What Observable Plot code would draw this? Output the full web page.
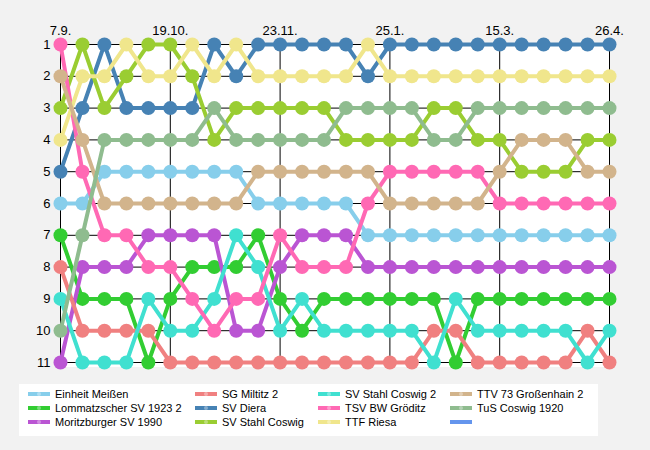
<!DOCTYPE html>
<html>
<head>
<meta charset="utf-8">
<script src="https://cdn.jsdelivr.net/npm/d3@7"></script>
<script src="https://cdn.jsdelivr.net/npm/@observablehq/plot@0.6"></script>
<style>
  html, body { margin: 0; padding: 0; background: #f2f2f2; }
  #wrap { position: relative; width: 650px; height: 450px; font-family: "Liberation Sans", Arial, sans-serif; }
  #legend { position: absolute; left: 19px; top: 384px; width: 579px; height: 52px; background: #ffffff; }
  .item { position: absolute; height: 14px; display: flex; align-items: center; font-size: 11px; color: #000; white-space: nowrap; }
  .item svg { margin-right: 5px; }
</style>
</head>
<body>
<div id="wrap"><div id="chart"></div><div id="legend"></div></div>
<script>
// Rounds (matchdays) and x-axis labels
const rounds = d3.range(1, 27);
const tickRounds = [1, 6, 11, 16, 21, 26];
const tickLabels = ["7.9.", "19.10.", "23.11.", "25.1.", "15.3.", "26.4."];
const rankTicks = d3.range(1, 12);

// Team names (legend order) and colours
const teams = ["Einheit Meißen", "Lommatzscher SV 1923 2", "Moritzburger SV 1990", "SG Miltitz 2", "SV Diera", "SV Stahl Coswig", "SV Stahl Coswig 2", "TSV BW Gröditz", "TTF Riesa", "TTV 73 Großenhain 2", "TuS Coswig 1920"];
const colors = ["#87CEEB", "#32CD32", "#BA55D3", "#F08080", "#4682B4", "#9ACD32", "#40E0D0", "#FF69B4", "#F0E68C", "#D2B48C", "#8FBC8F"];

// Table position per round
const einheitMeissen = [6,6,5,5,5,5,5,5,5,6,6,6,6,6,7,7,7,7,7,7,7,7,7,7,7,7];
const lommatzscher   = [7,9,9,9,11,9,8,8,8,7,9,10,9,9,9,9,9,9,11,9,9,9,9,9,9,9];
const moritzburger   = [11,8,8,8,7,7,7,7,10,10,8,7,7,7,8,8,8,8,8,8,8,8,8,8,8,8];
const sgMiltitz      = [8,10,10,10,10,11,11,11,11,11,11,11,11,11,11,11,11,10,10,11,11,11,11,11,10,11];
const svDiera        = [5,3,1,3,3,3,3,1,2,1,1,1,1,1,2,1,1,1,1,1,1,1,1,1,1,1];
const stahlCoswig    = [3,1,3,2,1,1,2,4,3,3,3,3,3,4,4,4,4,3,3,4,4,5,5,5,4,4];
const stahlCoswig2   = [9,11,11,11,9,10,10,9,7,8,10,9,10,10,10,10,10,11,9,10,10,10,10,10,11,10];
const groeditz       = [1,5,7,7,8,8,9,10,9,9,7,8,8,8,6,5,5,5,5,5,6,6,6,6,6,6];
const ttfRiesa       = [4,2,2,1,2,2,1,2,1,2,2,2,2,2,1,2,2,2,2,2,2,2,2,2,2,2];
const ttvGrossenhain = [2,4,6,6,6,6,6,6,6,5,5,5,5,5,5,6,6,6,6,6,5,4,4,4,5,5];
const tusCoswig      = [10,7,4,4,4,4,4,3,4,4,4,4,4,3,3,3,3,4,4,3,3,3,3,3,3,3];

const series = [einheitMeissen, lommatzscher, moritzburger, sgMiltitz, svDiera, stahlCoswig, stahlCoswig2, groeditz, ttfRiesa, ttvGrossenhain, tusCoswig];

const data = teams.flatMap((team, i) => series[i].map((rank, j) => ({team, round: rounds[j], rank})));

const labelOf = new Map(tickRounds.map((r, i) => [r, tickLabels[i]]));

const teamMarks = teams.flatMap((team, i) => {
  const d = data.filter(e => e.team === team);
  return [
    Plot.line(d, {x: "round", y: "rank", stroke: colors[i], strokeWidth: 4}),
    Plot.dot(d, {x: "round", y: "rank", fill: colors[i], r: 7})
  ];
});

const chart = Plot.plot({
  width: 650,
  height: 380,
  marginLeft: 60,
  marginRight: 41,
  marginTop: 44,
  marginBottom: 18,
  style: {background: "none", fontSize: "13px", fontFamily: "'Liberation Sans', Arial, sans-serif", color: "#000", overflow: "visible"},
  x: {type: "linear", domain: [1, 26]},
  y: {type: "linear", domain: [1, 11], reverse: true},
  marks: [
    Plot.rect([0], {x1: () => 1, x2: () => 26, y1: () => 1, y2: () => 11, fill: "white", insetBottom: -5, insetRight: -1}),
    Plot.ruleY(rankTicks, {x1: 1, x2: 26, stroke: "black", strokeWidth: 1}),
    Plot.ruleX(tickRounds, {y1: 1, y2: 11, stroke: "black", strokeWidth: 1}),
    Plot.axisX({anchor: "top", ticks: tickRounds, tickFormat: r => labelOf.get(r), tickSize: 5, tickPadding: 5, label: null, stroke: "black", strokeOpacity: 1, fill: "black"}),
    Plot.axisY({anchor: "left", ticks: rankTicks, tickFormat: d => String(d), tickSize: 5, tickPadding: 5, label: null, stroke: "black", strokeOpacity: 1, fill: "black"}),
    ...teamMarks
  ]
});
document.getElementById("chart").appendChild(chart);

// Legend (4 columns, 3 rows; last slot is an unlabeled blue line)
const legendEntries = teams.map((t, i) => ({label: t, color: colors[i], dot: true}));
legendEntries.push({label: "", color: "#6495ED", dot: false});
const colX = [9, 176, 299, 431];
const rowY = [3, 17, 31];
const legend = document.getElementById("legend");
legendEntries.forEach((e, i) => {
  const col = Math.floor(i / 3), row = i % 3;
  const div = document.createElement("div");
  div.className = "item";
  div.style.left = colX[col] + "px";
  div.style.top = rowY[row] + "px";
  div.innerHTML = `<svg width="22" height="8"><line x1="0" y1="4" x2="22" y2="4" stroke="${e.color}" stroke-width="4"/>${e.dot ? `<circle cx="11" cy="4" r="2" fill="#ffffff" fill-opacity="0.35"/>` : ""}</svg><span>${e.label}</span>`;
  legend.appendChild(div);
});
</script>
</body>
</html>
